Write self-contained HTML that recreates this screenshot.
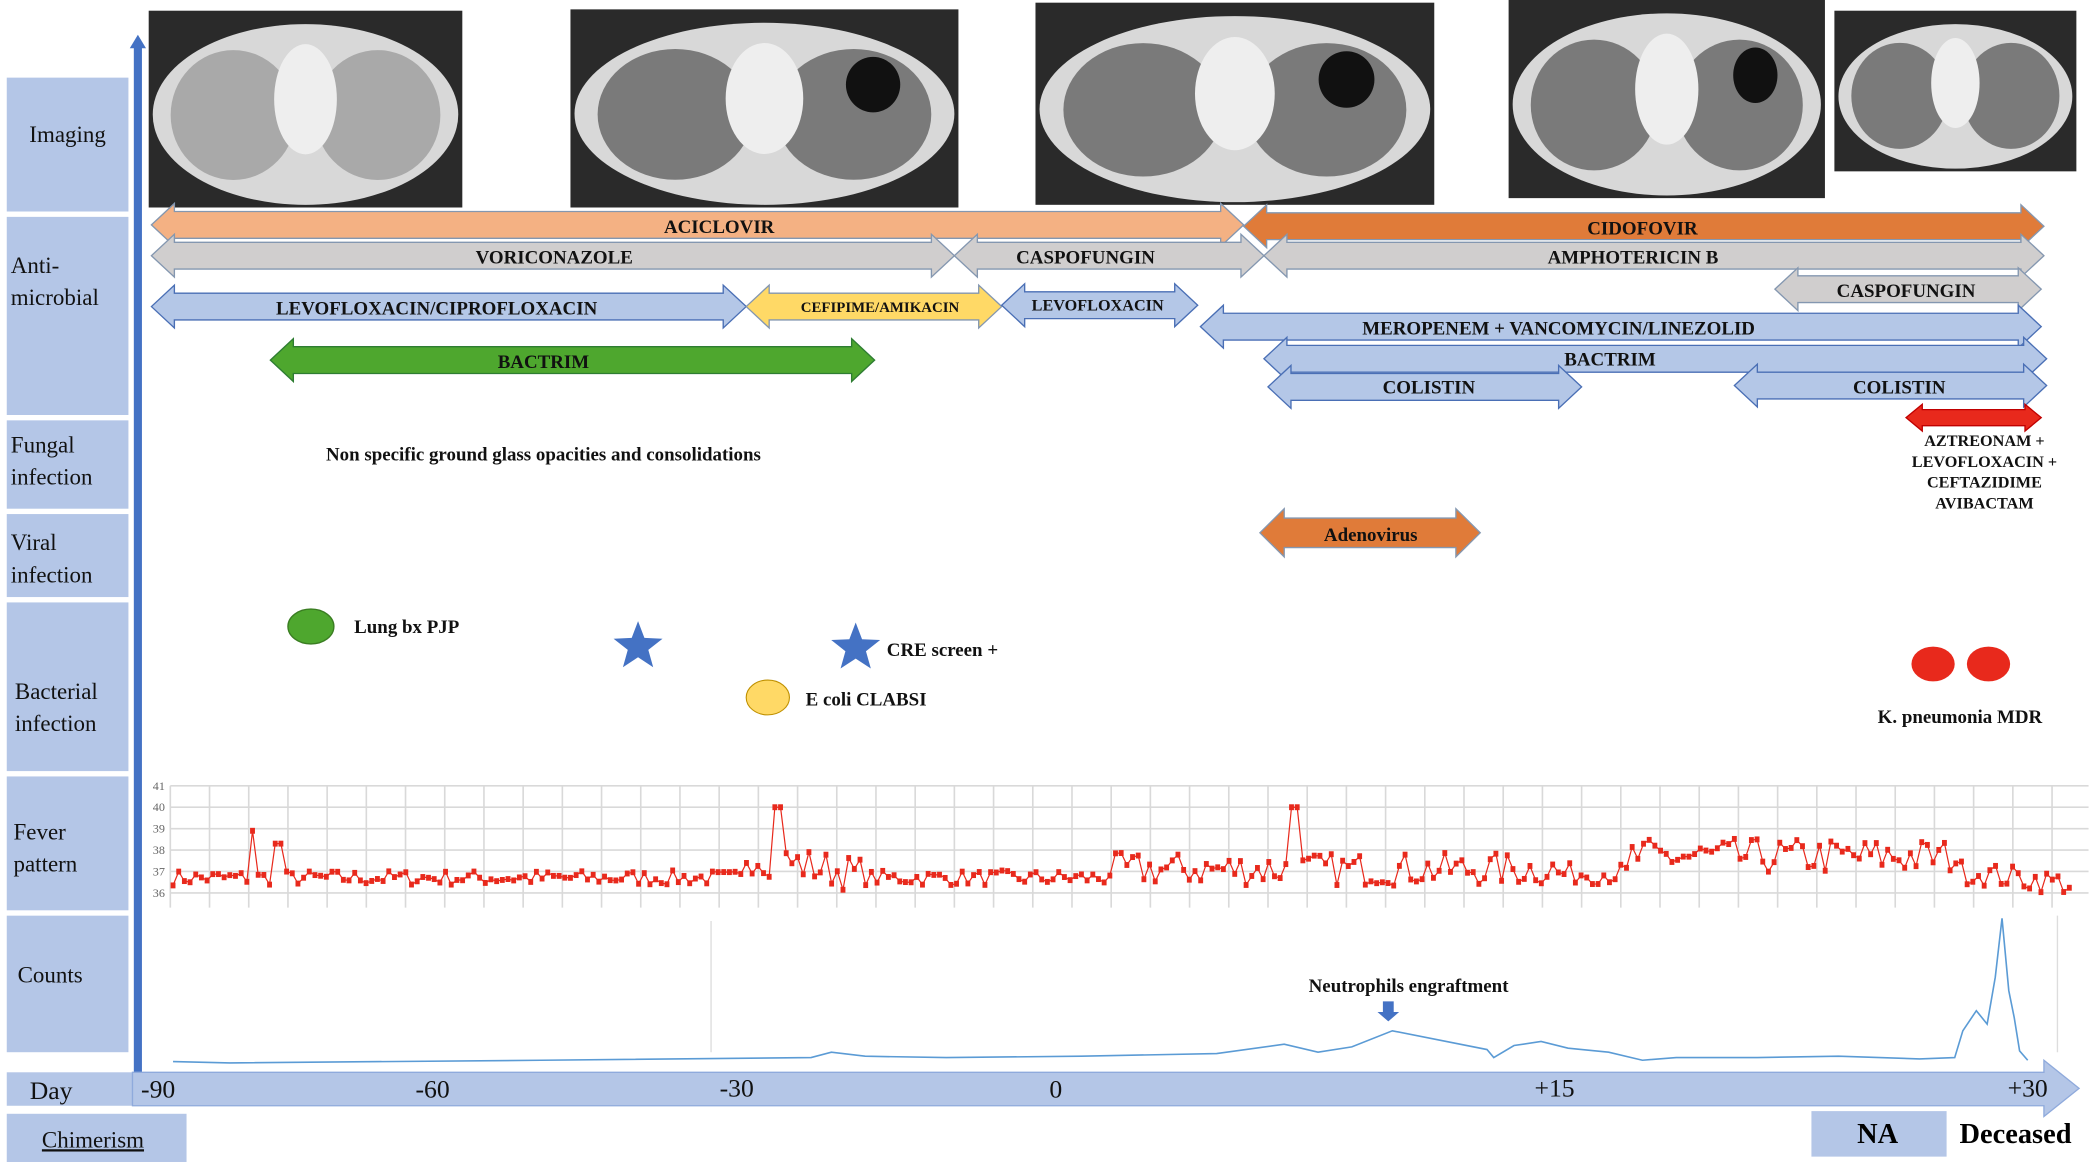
<!DOCTYPE html>
<html><head><meta charset="utf-8"><style>
html,body{margin:0;padding:0;background:#fff;width:2098px;height:1166px;overflow:hidden}
svg{display:block}
text{font-family:"Liberation Serif",serif}
.b{font-weight:bold}
</style></head><body>
<svg id="s" width="2098" height="1166" viewBox="0 0 1552 871" preserveAspectRatio="none" xmlns="http://www.w3.org/2000/svg">
<defs>
<radialGradient id="lung" cx="50%" cy="50%" r="60%"><stop offset="0" stop-color="#9a9a9a"/><stop offset="0.7" stop-color="#6a6a6a"/><stop offset="1" stop-color="#cfcfcf"/></radialGradient>
</defs>
<!-- label boxes -->
<g fill="#b4c6e7">
<rect x="5" y="58" width="90" height="100"/><rect x="5" y="162" width="90" height="148"/>
<rect x="5" y="314" width="90" height="66"/><rect x="5" y="384" width="90" height="62"/>
<rect x="5" y="450" width="90" height="126"/><rect x="5" y="580" width="90" height="100"/>
<rect x="5" y="684" width="90" height="102"/><rect x="5" y="801" width="93" height="25"/>
<rect x="5" y="832" width="133" height="36"/><rect x="1340" y="830" width="100" height="34"/>
</g>
<g font-size="17" fill="#111">
<text x="50" y="106" text-anchor="middle">Imaging</text>
<text x="8" y="204">Anti-</text><text x="8" y="228">microbial</text>
<text x="8" y="338">Fungal</text><text x="8" y="362">infection</text>
<text x="8" y="411">Viral</text><text x="8" y="435">infection</text>
<text x="11" y="522">Bacterial</text><text x="11" y="546">infection</text>
<text x="10" y="627">Fever</text><text x="10" y="651">pattern</text>
<text x="13" y="734">Counts</text>
<text x="22" y="821" font-size="19">Day</text>
<text x="31" y="857" text-decoration="underline">Chimerism</text>
</g>
<!-- vertical axis -->
<rect x="99" y="34" width="6" height="768" fill="#4472c4"/>
<polygon points="96,36 102,26 108,36" fill="#4472c4"/>
<!-- images -->
<g id="imgs"></g>
<!-- day axis -->
<polygon points="98,801 1512,801 1512,792 1538,813 1512,834 1512,826 98,826" fill="#b4c6e7" stroke="#8faadc" stroke-width="1"/>
<g font-size="19" fill="#111">
<text x="117" y="820" text-anchor="middle">-90</text><text x="320" y="820" text-anchor="middle">-60</text>
<text x="545" y="819" text-anchor="middle">-30</text><text x="781" y="820" text-anchor="middle">0</text>
<text x="1150" y="819" text-anchor="middle">+15</text><text x="1500" y="819" text-anchor="middle">+30</text>
</g>
<text x="1389" y="854" font-size="21" class="b" text-anchor="middle">NA</text>
<text x="1491" y="854" font-size="21" class="b" text-anchor="middle">Deceased</text>
<!-- fever grid -->
<g id="grid" stroke="#d9d9d9" stroke-width="1.2"></g>
<g font-size="9" fill="#666">
<text x="113" y="590">41</text><text x="113" y="606">40</text><text x="113" y="622">39</text>
<text x="113" y="638">38</text><text x="113" y="654">37</text><text x="113" y="670">36</text>
</g>
<g id="fever"></g>
<g id="counts"></g>
<line x1="526" y1="688" x2="526" y2="786" stroke="#ddd"/>
<line x1="1522" y1="684" x2="1522" y2="786" stroke="#ddd"/>
<!-- arrows -->
<g id="arrows"></g>
<g class="b" font-size="14" fill="#111" text-anchor="middle">
<text x="532" y="174">ACICLOVIR</text>
<text x="1215" y="175">CIDOFOVIR</text>
<text x="410" y="197">VORICONAZOLE</text>
<text x="803" y="197">CASPOFUNGIN</text>
<text x="1208" y="197">AMPHOTERICIN B</text>
<text x="1410" y="222">CASPOFUNGIN</text>
<text x="323" y="235">LEVOFLOXACIN/CIPROFLOXACIN</text>
<text x="651" y="233" font-size="11">CEFIPIME/AMIKACIN</text>
<text x="812" y="232" font-size="12">LEVOFLOXACIN</text>
<text x="402" y="275">BACTRIM</text>
<text x="1153" y="250">MEROPENEM + VANCOMYCIN/LINEZOLID</text>
<text x="1191" y="273">BACTRIM</text>
<text x="1057" y="294">COLISTIN</text>
<text x="1405" y="294">COLISTIN</text>
<text x="1014" y="404">Adenovirus</text>
<text x="402" y="344">Non specific ground glass opacities and consolidations</text>
<g font-size="12"><text x="1468" y="333">AZTREONAM +</text><text x="1468" y="349">LEVOFLOXACIN +</text><text x="1468" y="364">CEFTAZIDIME</text><text x="1468" y="380">AVIBACTAM</text></g>
</g>
<g class="b" font-size="14" fill="#111">
<text x="262" y="473">Lung bx PJP</text>
<text x="656" y="490">CRE screen +</text>
<text x="596" y="527">E coli CLABSI</text>
<text x="1389" y="540">K. pneumonia MDR</text>
<text x="1042" y="741" text-anchor="middle">Neutrophils engraftment</text>
</g>
<ellipse cx="230" cy="468" rx="17" ry="13" fill="#4ea72e" stroke="#3a7d22"/>
<ellipse cx="568" cy="521" rx="16" ry="13" fill="#ffd966" stroke="#bf9000" stroke-width="0.8"/>
<ellipse cx="1430" cy="496" rx="16" ry="13" fill="#e8291c"/>
<ellipse cx="1471" cy="496" rx="16" ry="13" fill="#e8291c"/>
<g id="stars" fill="#4472c4"></g>
<polygon points="1023,748 1031,748 1031,756 1035,756 1027,763 1019,756 1023,756" fill="#4472c4"/>
</svg>
<script>
var NS="http://www.w3.org/2000/svg";
function el(p,t,a){var e=document.createElementNS(NS,t);for(var k in a)e.setAttribute(k,a[k]);document.getElementById(p).appendChild(e);return e;}
// images
[[110,8,232,147],[422,7,287,148],[766,2,295,151],[1116,0,234,148],[1357,8,179,120]].forEach(function(r,i){
 var x=r[0],y=r[1],w=r[2],h=r[3];
 el("imgs","rect",{x:x,y:y,width:w,height:h,fill:"#2a2a2a"});
 el("imgs","ellipse",{cx:x+w/2,cy:y+h/2+4,rx:w/2-3,ry:h/2-6,fill:"#d8d8d8"});
 var c=i==0?"#a9a9a9":"#7a7a7a";
 el("imgs","ellipse",{cx:x+w*0.27,cy:y+h*0.53,rx:w*0.2,ry:h*0.33,fill:c});
 el("imgs","ellipse",{cx:x+w*0.73,cy:y+h*0.53,rx:w*0.2,ry:h*0.33,fill:c});
 el("imgs","ellipse",{cx:x+w/2,cy:y+h*0.45,rx:w*0.1,ry:h*0.28,fill:"#eee"});
 if(i==1||i==2||i==3) el("imgs","ellipse",{cx:x+w*0.78,cy:y+h*0.38,rx:w*0.07,ry:h*0.14,fill:"#111"});
});
// double arrows
function da(x1,x2,cy,fill,stroke,bh,hh,hl,l,r){
 bh=bh||10;hh=hh||16;hl=hl||17;
 var a=(l!==false)?hl:0,b=(r!==false)?hl:0;
 var p=[[x1,cy],[x1+a,cy-hh],[x1+a,cy-bh],[x2-b,cy-bh],[x2-b,cy-hh],[x2,cy],[x2-b,cy+hh],[x2-b,cy+bh],[x1+a,cy+bh],[x1+a,cy+hh]];
 el("arrows","polygon",{points:p.map(function(q){return q.join(",")}).join(" "),fill:fill,stroke:stroke,"stroke-width":1});
}
var LB="#b4c7e7",LS="#4a6fb5",GR="#d0cece",GS="#8497b0";
da(112,920,168,"#f4b183","#8497b0");
da(920,1512,169,"#e07b39","#8497b0");
da(112,706,191,GR,GS);
da(706,935,191,GR,GS);
da(935,1512,191,GR,GS);
da(1313,1510,216,GR,GS);
da(112,552,229,LB,LS);
da(552,741,229,"#ffd966",GS);
da(741,886,228,LB,LS);
da(200,647,269,"#4ea72e","#2e7d32");
da(888,1510,244,LB,LS);
da(935,1514,268,LB,LS);
da(938,1170,289,LB,LS);
da(1283,1514,288,LB,LS);
da(1410,1510,312,"#e8291c","#c00000",6,10,12);
da(932,1095,398,"#e07b39","#8497b0",11,18,18);
// stars
function star(cx,cy,R){var p=[];for(var i=0;i<10;i++){var r=i%2?R*0.42:R,a=-Math.PI/2+i*Math.PI/5;p.push((cx+r*Math.cos(a)).toFixed(1)+","+(cy+r*Math.sin(a)).toFixed(1));}el("stars","polygon",{points:p.join(" ")});}
star(472,483,19);star(633,484,19);
// grid
for(var i=0;i<6;i++){var y=587+i*16;el("grid","line",{x1:126,y1:y,x2:1545,y2:y});}
for(var x=126;x<1545;x+=29)el("grid","line",{x1:x,y1:587,x2:x,y2:678});
// fever
var seed=7;function rnd(){seed=(seed*16807)%2147483647;return seed/2147483647;}
function yT(t){return 667-(t-36)*16;}
var pts=[];
for(var x=128;x<1535;x+=4.2){
 var base=36.7,amp=0.5;
 if(x>550&&x<640){base=37.8-(x-550)/90*1.0;amp=1.2;}
 else if(x>820&&x<1150){base=37.1;amp=1.1;}
 else if(x>1150&&x<1205){base=36.9;amp=0.7;}
 else if(x>1205&&x<1450){base=37.7;amp=1.2;}
 else if(x>=1450){base=37.0-(x-1450)/85*0.6;amp=0.8;}
 var t=base+(rnd()-0.5)*amp*1.4;
 if(Math.abs(x-186)<3)t=38.9;if(Math.abs(x-206)<3)t=38.3;if(Math.abs(x-576)<3)t=40;if(Math.abs(x-958)<3)t=40;
 pts.push([x,yT(t)]);
}
el("fever","polyline",{points:pts.map(function(p){return p[0].toFixed(1)+","+p[1].toFixed(1)}).join(" "),fill:"none",stroke:"#e8291c","stroke-width":0.9});
pts.forEach(function(p){el("fever","rect",{x:p[0]-1.8,y:p[1]-2.2,width:3.6,height:4.4,fill:"#e8291c"});});
// counts
var c=[[128,793],[170,794],[400,792],[600,790],[615,786],[640,789],[700,790],[800,789],[900,787],[950,780],[975,786],[1000,782],[1030,770],[1100,784],[1105,790],[1120,781],[1140,778],[1160,783],[1190,786],[1215,792],[1240,790],[1300,790],[1360,789],[1420,791],[1446,790],[1452,770],[1462,755],[1470,765],[1476,730],[1481,686],[1486,740],[1490,760],[1494,785],[1500,792]];
el("counts","polyline",{points:c.map(function(p){return p.join(",")}).join(" "),fill:"none",stroke:"#5b9bd5","stroke-width":1.2});
</script>
</body></html>
